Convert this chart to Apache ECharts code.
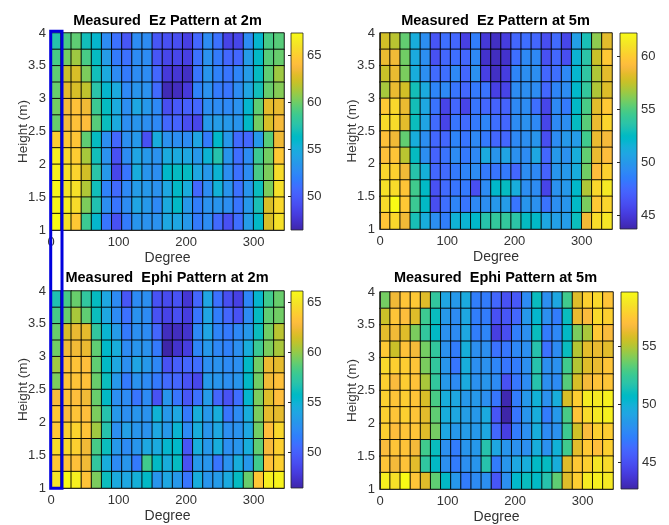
<!DOCTYPE html>
<html><head><meta charset="utf-8">
<script src="https://cdn.jsdelivr.net/npm/echarts@6/dist/echarts.min.js"></script>
<style>html,body{margin:0;padding:0;background:#fff}#c{width:669px;height:525px}</style>
</head><body><div id="c"></div>
<script>
// ---- data ----
const degreeEdges = [0,15,30,45,60,75,90,105,120,135,150,165,180,195,210,225,240,255,270,285,300,315,330];
const degreeStep = 15;
const heightEdges = [1,1.25,1.5,1.75,2,2.25,2.5,2.75,3,3.25,3.5,3.75];
const heightStep = 0.25;
const xTickValues = [0,100,200,300];

const titles = ['Measured  Ez Pattern at 2m','Measured  Ez Pattern at 5m','Measured  Ephi Pattern at 2m','Measured  Ephi Pattern at 5m'];

const cbRangeEz2m = [46.4, 67.4];
const cbRangeEz5m = [43.7, 62.2];
const cbRangeEphi2m = [46.4, 66.1];
const cbRangeEphi5m = [42.7, 59.7];
const cbTicksEz2m = [50,55,60,65];
const cbTicksEz5m = [45,50,55,60];
const cbTicksEphi2m = [50,55,60,65];
const cbTicksEphi5m = [45,50,55];

// rows listed from top (3.75-4 m) to bottom (1-1.25 m), columns 0..330 deg
const ezAt2m = [
[57.5,59.0,59.6,56.9,55.9,52.7,51.2,49.6,52.7,52.7,49.6,49.3,49.1,48.3,50.6,52.7,51.2,48.5,48.7,52.7,55.9,59.0,59.4],
[59.0,60.1,61.1,59.0,56.5,53.8,51.7,51.2,52.7,52.7,49.6,48.7,48.7,48.3,51.2,53.1,51.7,50.6,50.6,53.8,56.3,59.4,59.8],
[59.6,62.2,62.6,60.3,56.9,54.8,52.7,51.7,52.7,52.7,50.6,47.9,47.7,47.2,51.4,53.3,52.1,51.4,52.3,53.8,56.5,59.6,61.1],
[59.8,63.0,62.6,61.9,57.7,55.9,54.8,52.5,53.3,53.1,50.8,46.8,47.0,47.9,52.1,53.1,51.7,51.4,52.7,54.4,56.9,59.8,60.5],
[60.1,63.6,64.3,63.4,58.6,56.5,54.8,52.9,54.6,53.5,52.5,49.1,49.8,50.2,50.6,52.9,52.7,52.5,53.1,55.9,59.6,63.0,63.2],
[59.8,63.6,64.3,64.0,59.4,56.7,54.8,52.9,53.3,52.9,52.5,50.6,50.4,49.1,48.7,53.5,53.8,53.5,53.3,56.3,60.1,62.6,63.6],
[64.9,64.7,64.5,59.6,56.5,52.9,50.6,52.9,53.5,49.3,55.0,53.1,52.9,52.7,54.4,51.7,56.1,53.5,50.8,50.6,53.5,59.4,63.4],
[66.6,65.5,64.9,61.3,56.9,53.1,49.3,52.7,54.4,53.5,53.1,54.8,54.8,54.6,53.5,55.6,57.5,53.3,51.0,52.7,58.6,60.1,64.7],
[66.8,65.9,65.3,62.4,57.7,53.5,48.7,51.4,55.0,53.3,52.9,56.1,56.5,56.5,54.6,53.5,55.6,52.9,51.2,52.7,59.0,60.3,65.7],
[67.0,66.1,65.9,61.5,56.9,52.1,50.8,52.5,53.8,53.5,53.1,54.6,56.3,55.0,50.6,52.7,55.4,53.3,51.2,53.3,56.7,60.3,65.9],
[67.0,66.6,65.7,60.3,57.3,52.9,51.4,52.7,54.4,53.5,52.5,54.8,56.3,53.5,51.9,53.1,53.3,52.9,51.4,53.5,57.1,62.6,65.5],
[67.4,66.1,64.7,58.6,55.9,51.4,49.3,51.7,53.3,53.1,53.1,54.6,54.6,53.5,51.7,52.7,50.8,49.3,51.0,53.8,56.3,62.6,65.9]
];
const ezAt5m = [
[57.8,57.2,55.4,51.3,49.4,46.5,47.8,47.4,45.4,48.5,45.0,44.4,45.2,47.4,47.8,47.4,46.1,47.6,45.7,50.4,53.1,56.3,58.3],
[58.5,58.7,55.7,51.1,49.4,46.3,47.4,47.8,47.4,49.1,44.6,44.3,44.6,47.8,49.1,49.1,46.3,47.4,46.1,51.8,53.7,57.6,59.8],
[57.6,58.5,55.9,51.3,49.4,47.6,47.8,49.1,47.4,49.6,45.4,44.4,45.2,48.9,49.4,49.4,47.4,47.8,49.1,52.0,53.9,57.0,58.3],
[56.8,58.5,57.8,53.0,51.1,48.9,49.1,48.1,47.4,48.3,48.0,45.4,45.6,49.3,49.4,49.3,47.4,48.9,49.3,52.2,54.1,57.0,58.1],
[59.8,60.5,58.5,53.0,50.9,48.0,45.6,47.4,45.6,48.1,47.4,47.2,47.2,49.1,49.3,47.8,45.7,49.1,48.3,52.4,54.8,58.3,59.8],
[60.7,60.7,58.3,52.8,50.7,47.6,45.6,48.1,47.6,48.3,48.9,47.8,47.4,49.3,49.6,49.1,45.7,49.1,49.4,52.6,55.2,58.5,60.4],
[59.4,58.7,55.4,51.3,49.4,47.4,47.4,48.9,48.1,49.1,48.3,47.4,47.4,49.1,49.4,49.8,46.1,49.3,50.0,50.2,54.6,58.5,58.9],
[59.4,59.6,57.2,52.6,49.4,47.2,48.0,49.3,48.3,49.1,51.1,49.8,50.7,49.6,49.3,50.9,47.4,50.0,49.6,51.3,55.4,58.5,59.2],
[60.4,60.2,58.7,53.5,51.5,47.4,47.6,48.3,48.9,49.3,48.3,48.1,48.3,47.4,49.3,49.1,47.2,49.8,50.0,51.3,55.7,59.2,60.2],
[60.9,60.7,59.6,54.6,52.4,46.3,47.6,48.1,48.3,46.1,49.3,52.2,52.6,51.3,49.4,49.3,45.6,49.6,50.0,52.2,57.0,60.5,61.3],
[60.7,62.2,59.8,54.4,52.4,46.1,47.8,48.9,48.1,49.1,49.4,50.0,50.2,48.1,49.8,49.6,48.0,49.4,49.8,52.4,55.9,59.8,60.4],
[59.6,60.5,58.7,53.1,51.3,49.4,48.5,51.7,51.8,52.2,53.5,54.1,54.1,53.7,52.6,52.4,50.9,50.4,50.2,52.8,58.7,60.7,61.1]
];
const ephiAt2m = [
[56.6,58.2,59.0,57.4,55.9,54.1,52.3,49.4,52.3,52.5,49.2,48.8,49.2,47.6,50.3,53.9,50.9,49.0,48.2,51.9,55.3,58.0,59.0],
[58.2,59.0,60.4,58.8,56.1,54.1,52.3,50.9,52.7,52.3,49.2,48.4,49.0,48.0,51.1,53.9,51.5,50.3,49.2,52.3,55.9,58.8,59.2],
[59.0,61.6,62.2,62.0,57.4,55.1,53.3,51.3,52.5,52.3,50.3,47.0,47.0,47.4,52.1,53.9,51.9,51.3,52.1,53.1,56.1,59.2,60.8],
[59.2,62.4,62.4,62.2,58.8,55.5,54.5,52.3,52.9,52.7,51.3,46.4,47.4,48.0,51.9,53.1,52.1,51.7,52.5,54.5,57.8,59.4,60.4],
[60.2,63.1,63.3,63.0,58.8,55.7,54.1,52.5,53.9,53.1,52.1,49.2,49.9,50.3,50.7,52.5,52.7,52.3,52.5,55.7,59.2,62.2,62.0],
[59.4,63.3,63.3,63.1,59.0,56.1,53.1,51.3,52.7,52.3,51.3,50.5,50.3,49.2,48.6,53.1,52.9,52.5,52.9,55.7,59.2,62.4,63.1],
[62.6,63.3,63.0,62.4,59.0,55.7,52.5,52.3,51.1,52.3,49.2,52.9,51.1,49.4,50.9,53.3,50.3,49.2,50.7,55.3,59.4,61.8,63.0],
[63.5,62.8,63.3,63.0,59.4,56.8,53.1,52.5,52.9,52.7,54.9,53.1,54.1,51.3,54.5,53.1,54.5,51.1,52.3,54.5,59.4,62.0,62.0],
[63.5,63.9,64.1,63.3,60.2,56.8,52.5,53.5,52.9,52.7,54.1,53.1,55.1,52.3,54.5,52.9,54.1,52.5,52.7,54.1,59.2,63.0,64.3],
[64.5,64.3,63.9,62.4,58.2,56.1,53.1,52.3,52.9,54.1,54.3,55.3,55.5,49.4,54.5,53.1,54.5,52.5,52.9,54.5,58.8,62.6,63.9],
[63.5,63.3,63.1,62.4,57.4,54.5,52.3,52.9,51.3,58.0,55.7,54.5,55.9,49.2,53.1,52.9,51.1,52.7,54.5,53.1,58.0,63.1,63.9],
[64.9,66.1,65.5,63.3,59.4,56.1,54.3,54.1,54.7,55.7,52.9,54.1,53.1,51.1,54.5,52.9,53.3,54.3,55.9,59.0,63.5,65.5,65.7]
];
const ephiAt5m = [
[53.8,56.5,57.3,57.5,56.0,52.2,49.2,48.5,49.5,47.1,47.0,46.1,45.1,45.4,47.8,51.0,48.0,49.3,52.7,56.0,57.8,58.2,57.3],
[55.5,57.3,57.0,56.0,52.6,51.0,48.5,47.8,49.3,47.1,47.0,45.1,45.3,46.1,48.5,50.4,48.0,47.0,51.0,56.3,56.8,58.2,57.8],
[56.1,56.5,56.0,53.9,52.2,50.7,48.1,47.8,49.3,47.1,47.5,44.2,44.9,47.1,48.0,51.0,47.0,47.6,50.7,53.9,54.8,57.5,56.8],
[57.5,55.5,57.2,56.6,53.8,52.2,48.1,47.0,49.8,48.0,48.0,46.6,46.8,47.6,48.0,51.7,46.6,47.8,51.0,55.0,56.1,56.3,56.1],
[58.2,57.8,57.7,57.3,53.9,52.2,48.3,46.8,49.7,48.0,48.1,47.5,46.8,47.0,48.0,51.7,48.0,48.1,52.7,55.0,56.0,56.3,57.3],
[57.8,56.8,57.7,57.2,54.8,52.2,48.5,47.8,49.5,48.1,48.3,47.8,45.1,46.8,47.8,51.7,48.0,47.8,53.2,55.8,56.6,57.2,57.3],
[57.8,57.3,57.7,57.3,55.8,52.9,49.7,49.3,48.5,48.5,48.0,46.8,42.9,47.0,48.5,50.0,48.1,49.7,55.8,57.7,59.0,58.9,59.2],
[57.8,57.3,57.8,57.3,56.1,53.4,49.7,49.3,48.8,48.5,49.5,45.3,42.7,46.8,48.3,49.7,47.0,48.5,52.9,57.3,58.3,58.9,59.2],
[57.8,57.0,57.3,57.3,56.0,53.8,49.3,48.5,48.7,48.5,49.3,46.1,44.2,47.0,48.0,49.7,47.8,48.1,52.6,55.6,56.8,57.8,57.7],
[56.8,57.3,57.2,56.6,52.7,51.0,48.0,47.0,48.3,48.5,51.7,49.3,48.3,48.1,48.0,49.7,48.1,50.0,52.7,56.1,57.5,57.0,57.8],
[57.3,56.6,57.2,56.1,52.1,50.7,48.0,47.0,48.0,48.3,51.7,47.0,48.3,49.3,49.7,50.7,50.9,49.7,56.0,57.5,57.8,58.7,58.3],
[59.2,58.5,59.7,57.3,56.0,53.4,50.7,48.5,47.0,47.8,48.0,45.3,48.0,50.5,51.0,50.7,51.7,53.4,56.0,57.7,59.0,59.2,58.9]
];

// ---- styling ----
const parula = ['#3e26a8','#402ab4','#422ec0','#4332cb','#4537d5','#463cde','#4741e5','#4747eb','#484df0','#4852f4','#4758f8','#465efb','#4563fd','#4269fe','#3e6fff','#3875fe','#327cfc','#2f81fa','#2e87f7','#2d8cf3','#2b91ef','#2796eb','#259be8','#23a0e5','#20a5e3','#1ca9df','#18addb','#12b1d6','#08b5d0','#01b8ca','#02bac3','#0bbdbd','#19bfb6','#24c1ae','#2cc4a7','#31c69f','#37c897','#3fca8e','#4acb84','#57cc7a','#64cd6f','#72cd64','#81cc59','#8fcb4e','#9dc943','#abc739','#b9c431','#c5c22a','#d1bf27','#dcbd29','#e6bb2d','#f0ba36','#f8ba3d','#febe3c','#fec338','#fec934','#fccf30','#fad62d','#f7dc2a','#f5e327','#f5e924','#f6ef20','#f7f51b','#f9fb15'];
const FONT = 'Liberation Sans, Arial, Helvetica, sans-serif';
const TXT = '#333333';

const layout = [
  {grid:{left:51,top:33,width:233,height:197}, cb:{left:291,top:33,width:12,height:197}, title:[167.5,21]},
  {grid:{left:380,top:33,width:232,height:196}, cb:{left:620,top:33,width:17,height:196}, title:[495.5,21]},
  {grid:{left:51,top:291,width:233,height:197}, cb:{left:291,top:291,width:12,height:197}, title:[167,278]},
  {grid:{left:380,top:292,width:233,height:197}, cb:{left:621,top:292,width:17,height:197}, title:[495.5,278]}
];
const datasets = [ezAt2m, ezAt5m, ephiAt2m, ephiAt5m];
const ranges = [cbRangeEz2m, cbRangeEz5m, cbRangeEphi2m, cbRangeEphi5m];
const cbTicks = [cbTicksEz2m, cbTicksEz5m, cbTicksEphi2m, cbTicksEphi5m];

const grid=[], xAxis=[], yAxis=[], series=[], visualMap=[], graphic=[];
const nRows = heightEdges.length, nCols = degreeEdges.length;
const xMax = degreeEdges[nCols-1] + degreeStep;
const yMin = heightEdges[0], yMax = heightEdges[nRows-1] + heightStep;

datasets.forEach((rows, i) => {
  const L = layout[i];
  grid.push(Object.assign({outerBoundsMode:'none', containLabel:false}, L.grid));
  grid.push(Object.assign({outerBoundsMode:'none', containLabel:false}, L.cb));
  const gP = 2*i, gC = 2*i+1;
  xAxis.push({type:'category', gridIndex:gP, data:degreeEdges.map(String), show:false, position:'top'});
  xAxis.push({type:'value', gridIndex:gP, min:degreeEdges[0], max:xMax, position:'bottom', z:10,
    axisLine:{show:true, onZero:false, lineStyle:{color:'#262626', width:1}},
    axisTick:{show:false}, splitLine:{show:false},
    axisLabel:{customValues:xTickValues, margin:6, fontSize:13, color:TXT, fontFamily:FONT},
    name:'Degree', nameLocation:'middle', nameGap:21, nameMoveOverlap:false,
    nameTextStyle:{fontSize:14, color:TXT, fontFamily:FONT}});
  xAxis.push({type:'value', gridIndex:gC, min:0, max:1, show:false});
  yAxis.push({type:'category', gridIndex:gP, data:heightEdges.map(String), show:false, position:'right'});
  yAxis.push({type:'value', gridIndex:gP, min:yMin, max:yMax, interval:0.5, position:'left', z:10,
    axisLine:{show:true, onZero:false, lineStyle:{color:'#262626', width:1}},
    axisTick:{show:false}, splitLine:{show:false},
    axisLabel:{margin:5, fontSize:13, color:TXT, fontFamily:FONT},
    name:'Height (m)', nameLocation:'middle', nameGap:21, nameMoveOverlap:false,
    nameTextStyle:{fontSize:13.5, color:TXT, fontFamily:FONT}});
  yAxis.push({type:'value', gridIndex:gC, min:ranges[i][0], max:ranges[i][1], position:'right', z:10,
    axisLine:{show:false}, splitLine:{show:false},
    axisTick:{show:true, inside:true, length:3, customValues:cbTicks[i], lineStyle:{color:'#262626'}},
    axisLabel:{customValues:cbTicks[i], margin:4, fontSize:13, color:TXT, fontFamily:FONT}});

  const cells = [];
  rows.forEach((row, r) => row.forEach((v, c) => cells.push([c, nRows-1-r, v])));
  series.push({type:'heatmap', xAxisIndex:3*i, yAxisIndex:3*i, data:cells, silent:true,
    itemStyle:{borderColor:'rgba(0,0,0,0.9)', borderWidth:1}, emphasis:{disabled:true}, progressive:0, animation:false});
  series.push({type:'custom', xAxisIndex:3*i+2, yAxisIndex:3*i+2, silent:true, animation:false,
    data:[[0, ranges[i][0], ranges[i][1]]], encode:{x:0, y:[1,2]},
    renderItem:(params, api) => {
      const b = api.coord([0, api.value(1)]);
      const t = api.coord([1, api.value(2)]);
      const stops = parula.map((col, k) => ({offset:k/(parula.length-1), color:col}));
      return {type:'rect', shape:{x:b[0], y:t[1], width:t[0]-b[0], height:b[1]-t[1]},
        style:{fill:new echarts.graphic.LinearGradient(0,1,0,0,stops), stroke:'#262626', lineWidth:0.8}};
    }});
  visualMap.push({type:'continuous', show:false, seriesIndex:2*i, dimension:2,
    min:ranges[i][0], max:ranges[i][1], inRange:{color:parula}});
  graphic.push({type:'text', x:L.title[0], y:L.title[1], z:100,
    style:{text:titles[i], align:'center', verticalAlign:'middle', font:'bold 14.5px ' + FONT, fill:'#000'}});
});

// blue highlight rectangle around the 0-15 degree column of the left plots
graphic.push({type:'rect', z:200, shape:{x:50.7, y:31.3, width:11.3, height:457}, style:{fill:'none', stroke:'#0000dd', lineWidth:3}});

const chart = echarts.init(document.getElementById('c'), null, {renderer:'canvas'});
chart.setOption({animation:false, backgroundColor:'#fff', textStyle:{fontFamily:FONT},
  grid, xAxis, yAxis, series, visualMap, graphic});
</script>
</body></html>
